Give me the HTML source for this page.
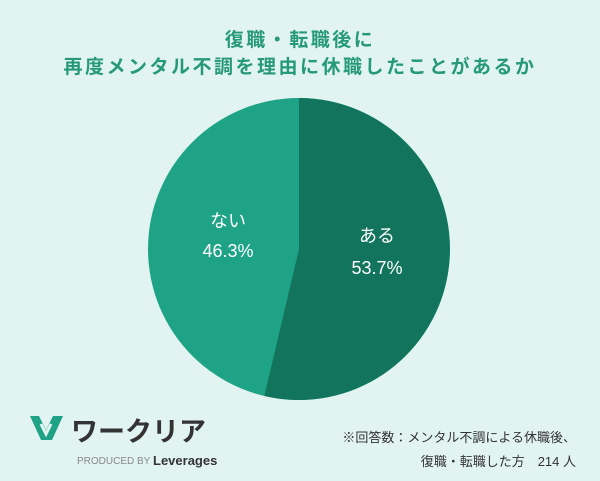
<!DOCTYPE html>
<html><head><meta charset="utf-8"><style>
html,body{margin:0;padding:0}
body{width:600px;height:481px;background:#e1f4f1;position:relative;overflow:hidden;font-family:"Liberation Sans","Noto Sans CJK JP",sans-serif}
.t{position:absolute;left:0;width:600px;text-align:center;color:#26997a;font-weight:bold;font-size:19px;letter-spacing:2.5px}
.foot{position:absolute;right:24px;text-align:right;color:#333;font-size:13px;line-height:24px}
</style></head><body>
<div class="t" style="top:25px">復職・転職後に</div>
<div class="t" style="top:52px">再度メンタル不調を理由に休職したことがあるか</div>
<svg width="600" height="481" style="position:absolute;left:0;top:0">
<circle cx="299" cy="249" r="151" fill="#1fa386"/>
<path d="M299 249 L299 98 A151 151 0 1 1 264.3 396 Z" fill="#12745c"/>
<g fill="#fff" font-family="Liberation Sans, Noto Sans CJK JP, sans-serif" font-size="18" text-anchor="middle">
<text x="228" y="227">ない</text>
<text x="228" y="257">46.3%</text>
<text x="377" y="242">ある</text>
<text x="377" y="274">53.7%</text>
</g>
<g transform="translate(30,416)">
<path d="M0 0 L9 0 L16 14 L23 0 L33 0 L22 24 L11 24 Z" fill="#1fa386"/>
<path d="M11 8 L16 18 L21 8" fill="none" stroke="#e1f4f1" stroke-width="3"/>
</g>
<text x="71" y="441" font-size="27" font-weight="bold" fill="#333" font-family="Liberation Sans, Noto Sans CJK JP, sans-serif">ワークリア</text>
<text x="77" y="464" font-size="10" fill="#888" font-family="Liberation Sans, sans-serif">PRODUCED BY</text>
<text x="153" y="465" font-size="13" font-weight="bold" fill="#333" font-family="Liberation Sans, sans-serif">Leverages</text>
</svg>
<div class="foot" style="top:426px">※回答数：メンタル不調による休職後、<br>復職・転職した方　214 人</div>
</body></html>
